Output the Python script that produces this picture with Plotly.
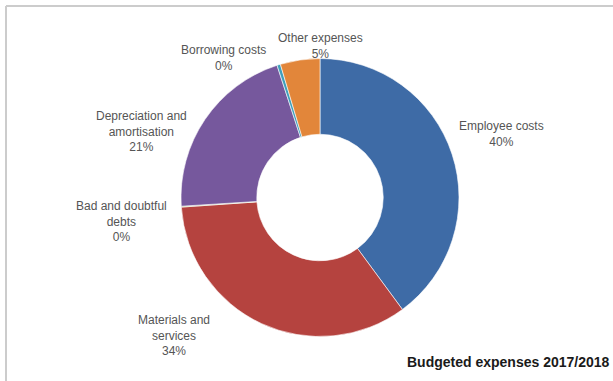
import plotly.graph_objects as go

W, H = 613, 381

categories = ["Employee costs", "Materials and services", "Bad and doubtful debts",
              "Depreciation and amortisation", "Borrowing costs", "Other expenses"]
display_labels = ["Employee costs", "Materials and<br>services", "Bad and doubtful<br>debts",
                  "Depreciation and<br>amortisation", "Borrowing costs", "Other expenses"]
values = [39.9, 34.0, 0.1, 21.0, 0.4, 4.6]
colors = ["#3E6BA6", "#B5433F", "#9BBB59", "#76589D", "#3F9FBB", "#E2863A"]
title_text = "Budgeted expenses 2017/2018"

# label placement (pixel centres), layout only
label_pos = [(501, 134), (174, 335), (121, 221), (141, 131), (223, 58), (320, 46)]

cx, cy, r = 320, 197.5, 139
fig = go.Figure(go.Pie(
    labels=categories, values=values, sort=False, direction="clockwise", rotation=0,
    hole=0.455, textinfo="none", hoverinfo="label+percent",
    marker=dict(colors=colors, line=dict(color="white", width=0.6)),
    domain=dict(x=[(cx - r) / W, (cx + r) / W], y=[(H - cy - r) / H, (H - cy + r) / H]),
    showlegend=False,
))

total = sum(values)
ann = []
for lab, v, (px, py) in zip(display_labels, values, label_pos):
    pct = round(v / total * 100)
    ann.append(dict(x=px / W, y=1 - py / H, xref="paper", yref="paper",
                    text=f"{lab}<br>{pct}%", showarrow=False, xanchor="center", yanchor="middle",
                    align="center", font=dict(family="Liberation Sans", size=12, color="#555555")))
ann.append(dict(x=612 / W, y=1 - 362 / H, xref="paper", yref="paper", text=f"<b>{title_text}</b>",
                showarrow=False, xanchor="right", yanchor="middle",
                font=dict(family="Liberation Sans", size=14, color="#1a1a1a")))

fig.update_layout(
    width=W, height=H, margin=dict(l=0, r=0, t=0, b=0),
    paper_bgcolor="white", plot_bgcolor="white",
    annotations=ann,
    shapes=[
        dict(type="line", xref="paper", yref="paper", x0=6 / W, x1=1, y0=1 - 6 / H, y1=1 - 6 / H,
             line=dict(color="#cccccc", width=2)),
        dict(type="line", xref="paper", yref="paper", x0=6 / W, x1=6 / W, y0=0, y1=1 - 6 / H,
             line=dict(color="#cccccc", width=2)),
    ],
)
fig.write_html("out.html")
